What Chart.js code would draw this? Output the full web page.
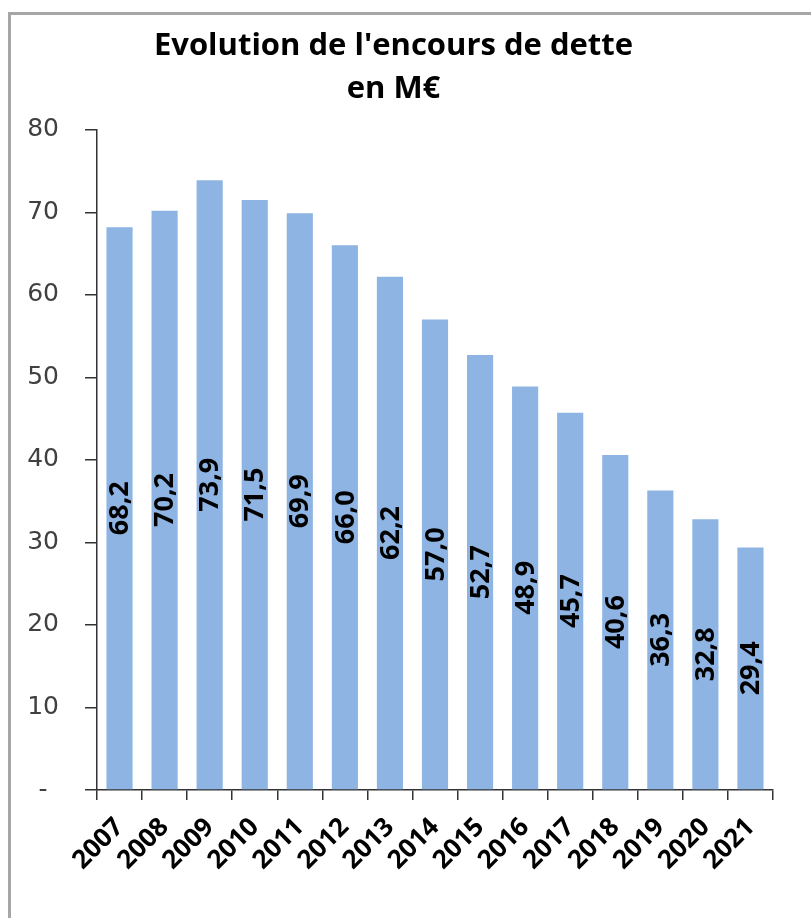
<!DOCTYPE html>
<html>
<head>
<meta charset="utf-8">
<script src="https://cdn.jsdelivr.net/npm/chart.js@4/dist/chart.umd.min.js"></script>
<style>
  html, body { margin: 0; padding: 0; background: #fff; }
  #wrap { width: 811px; height: 918px; }
</style>
</head>
<body>
<div id="wrap"><canvas id="myChart" width="811" height="918"></canvas></div>
<script>
const annees = ['2007', '2008', '2009', '2010', '2011', '2012', '2013', '2014', '2015', '2016', '2017', '2018', '2019', '2020', '2021'];
const encours = [68.2, 70.2, 73.9, 71.5, 69.9, 66.0, 62.2, 57.0, 52.7, 48.9, 45.7, 40.6, 36.3, 32.8, 29.4];
const yTicks = [0, 10, 20, 30, 40, 50, 60, 70, 80];

// frame round the chart, like the Excel chart border
const cadre = {
    id: 'cadre',
    beforeDraw(chart) {
        const ctx = chart.ctx;
        ctx.save();
        ctx.fillStyle = '#fff';
        ctx.fillRect(0, 0, chart.width, chart.height);
        ctx.strokeStyle = '#a6a6a6';
        ctx.lineWidth = 3;
        ctx.beginPath();
        ctx.moveTo(9.5, chart.height);
        ctx.lineTo(9.5, 13.5);
        ctx.lineTo(chart.width, 13.5);
        ctx.stroke();
        ctx.restore();
    }
};

// values written vertically in the middle of each bar
const etiquettes = {
    id: 'etiquettes',
    afterDatasetsDraw(chart) {
        const ctx = chart.ctx;
        const meta = chart.getDatasetMeta(0);
        ctx.save();
        ctx.font = 'bold 27px "Open Sans"';
        ctx.fillStyle = '#000';
        ctx.textAlign = 'center';
        ctx.textBaseline = 'middle';
        meta.data.forEach(function(bar, i) {
            const p = bar.getCenterPoint();
            ctx.save();
            ctx.translate(p.x, p.y);
            ctx.rotate(-Math.PI / 2);
            ctx.fillText(encours[i].toFixed(1).replace('.', ','), 0, 1);
            ctx.restore();
        });
        ctx.restore();
    }
};

const ctx = document.getElementById('myChart').getContext('2d');
new Chart(ctx, {
    type: 'bar',
    data: {
        labels: annees,
        datasets: [{
            label: 'Encours',
            data: encours,
            backgroundColor: 'rgb(141, 180, 226)',
            borderWidth: 0,
            categoryPercentage: 1,
            barPercentage: 0.58
        }]
    },
    options: {
        responsive: false,
        animation: false,
        layout: { padding: { left: 14, right: 38, top: 0, bottom: 0 } },
        plugins: {
            legend: { display: false },
            tooltip: { enabled: false },
            title: {
                display: true,
                text: ["Evolution de l'encours de dette", 'en M€'],
                color: '#000',
                font: { family: '"Open Sans"', size: 31, weight: 'bold', lineHeight: 1.4 },
                padding: { top: 24, bottom: 19 }
            }
        },
        scales: {
            x: {
                grid: { display: true, drawOnChartArea: false, offset: true, tickLength: 10, color: '#333', lineWidth: 1.5 },
                border: { display: true, color: '#333', width: 1.5 },
                ticks: {
                    color: '#000',
                    autoSkip: false,
                    maxRotation: 45,
                    minRotation: 45,
                    padding: 12,
                    font: { family: '"Open Sans"', size: 26, weight: 'bold' }
                },
                afterFit(scale) { scale.height = 128; }
            },
            y: {
                min: 0,
                max: 80,
                afterBuildTicks(scale) { scale.ticks = yTicks.map(v => ({ value: v })); },
                grid: { display: true, drawOnChartArea: false, tickLength: 12, color: '#333', lineWidth: 1.5 },
                border: { display: true, color: '#333', width: 1.5 },
                ticks: {
                    color: '#404040',
                    padding: 26,
                    crossAlign: 'center',
                    font: { family: '"DejaVu Sans"', size: 25 },
                    callback: function(v) { return v === 0 ? '-' : v; }
                },
                afterFit(scale) { scale.width = 83; }
            }
        }
    },
    plugins: [cadre, etiquettes]
});
</script>
</body>
</html>
